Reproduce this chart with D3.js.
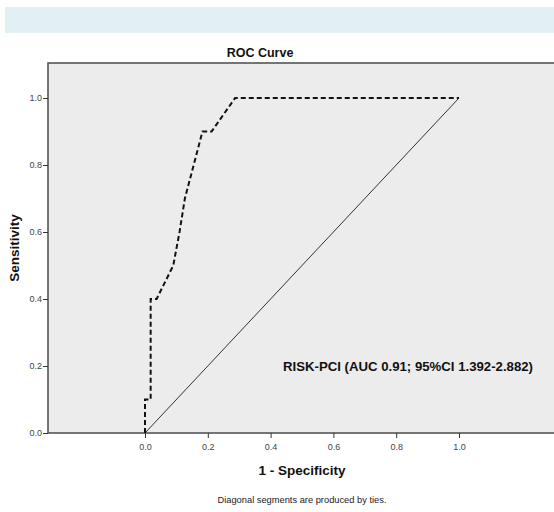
<!DOCTYPE html>
<html>
<head>
<meta charset="utf-8">
<script src="https://cdn.jsdelivr.net/npm/d3@7"></script>
<style>
  body { margin: 0; background: #fff; }
  text { font-family: "Liberation Sans", Arial, sans-serif; }
</style>
</head>
<body>
<svg id="chart" width="554" height="512"></svg>
<script>
// ROC curve points (1 - specificity, sensitivity)
const fpr = [0, 0, 0.018, 0.018, 0.037, 0.09, 0.11, 0.127, 0.155, 0.183, 0.212, 0.287, 1.0];
const tpr = [0, 0.1, 0.1, 0.4, 0.4, 0.5, 0.6, 0.7, 0.8, 0.9, 0.9, 1.0, 1.0];
const refLine = [0, 1];
const ticks = [0, 0.2, 0.4, 0.6, 0.8, 1.0];

const svg = d3.select('#chart');

// light banner across the top
svg.append('rect').attr('x', 5).attr('y', 7).attr('width', 549).attr('height', 26)
  .attr('fill', '#e2f0f4');

const x = d3.scaleLinear().domain([0, 1]).range([145, 459]);
const y = d3.scaleLinear().domain([0, 1]).range([433, 98]);

// plot frame (runs off the right edge like the original)
svg.append('rect').attr('x', 48).attr('y', 63).attr('width', 530).attr('height', 370)
  .attr('fill', '#ececec').attr('stroke', '#555').attr('stroke-width', 1.6);

svg.append('text').attr('x', 260).attr('y', 57).attr('text-anchor', 'middle')
  .attr('font-size', 12.5).attr('font-weight', 'bold').attr('fill', '#111')
  .text('ROC Curve');

// y axis
const yAxis = svg.append('g').attr('transform', 'translate(48,0)')
  .call(d3.axisLeft(y).tickValues(ticks).tickFormat(d3.format('.1f')).tickSize(5));
yAxis.select('.domain').remove();
yAxis.selectAll('line').attr('stroke', '#333');
yAxis.selectAll('text').attr('font-size', 9).attr('fill', '#444').attr('dx', 2)
  .attr('font-family', '"Liberation Sans", Arial, sans-serif');

// x axis
const xAxis = svg.append('g').attr('transform', 'translate(0,433)')
  .call(d3.axisBottom(x).tickValues(ticks).tickFormat(d3.format('.1f')).tickSize(5));
xAxis.select('.domain').remove();
xAxis.selectAll('line').attr('stroke', '#333');
xAxis.selectAll('text').attr('font-size', 9).attr('fill', '#444').attr('dy', '1.05em')
  .attr('font-family', '"Liberation Sans", Arial, sans-serif');

// reference diagonal
svg.append('line')
  .attr('x1', x(refLine[0])).attr('y1', y(refLine[0]))
  .attr('x2', x(refLine[1])).attr('y2', y(refLine[1]))
  .attr('stroke', '#333').attr('stroke-width', 1);

// roc curve
const line = d3.line().x(d => x(d[0])).y(d => y(d[1]));
svg.append('path').datum(d3.zip(fpr, tpr))
  .attr('d', line).attr('fill', 'none')
  .attr('stroke', '#111').attr('stroke-width', 2)
  .attr('stroke-dasharray', '5,3');

svg.append('text').attr('x', 283).attr('y', 371)
  .attr('font-size', 13).attr('font-weight', 'bold').attr('fill', '#111')
  .attr('textLength', 250).attr('lengthAdjust', 'spacingAndGlyphs')
  .text('RISK-PCI (AUC 0.91; 95%CI 1.392-2.882)');

svg.append('text').attr('transform', 'translate(19,248) rotate(-90)')
  .attr('text-anchor', 'middle').attr('font-size', 13.5).attr('font-weight', 'bold').attr('fill', '#111')
  .text('Sensitivity');

svg.append('text').attr('x', 302).attr('y', 475).attr('text-anchor', 'middle')
  .attr('font-size', 13.5).attr('font-weight', 'bold').attr('fill', '#111')
  .text('1 - Specificity');

svg.append('text').attr('x', 302).attr('y', 503).attr('text-anchor', 'middle')
  .attr('font-size', 9.3).attr('fill', '#222')
  .text('Diagonal segments are produced by ties.');
</script>
</body>
</html>
